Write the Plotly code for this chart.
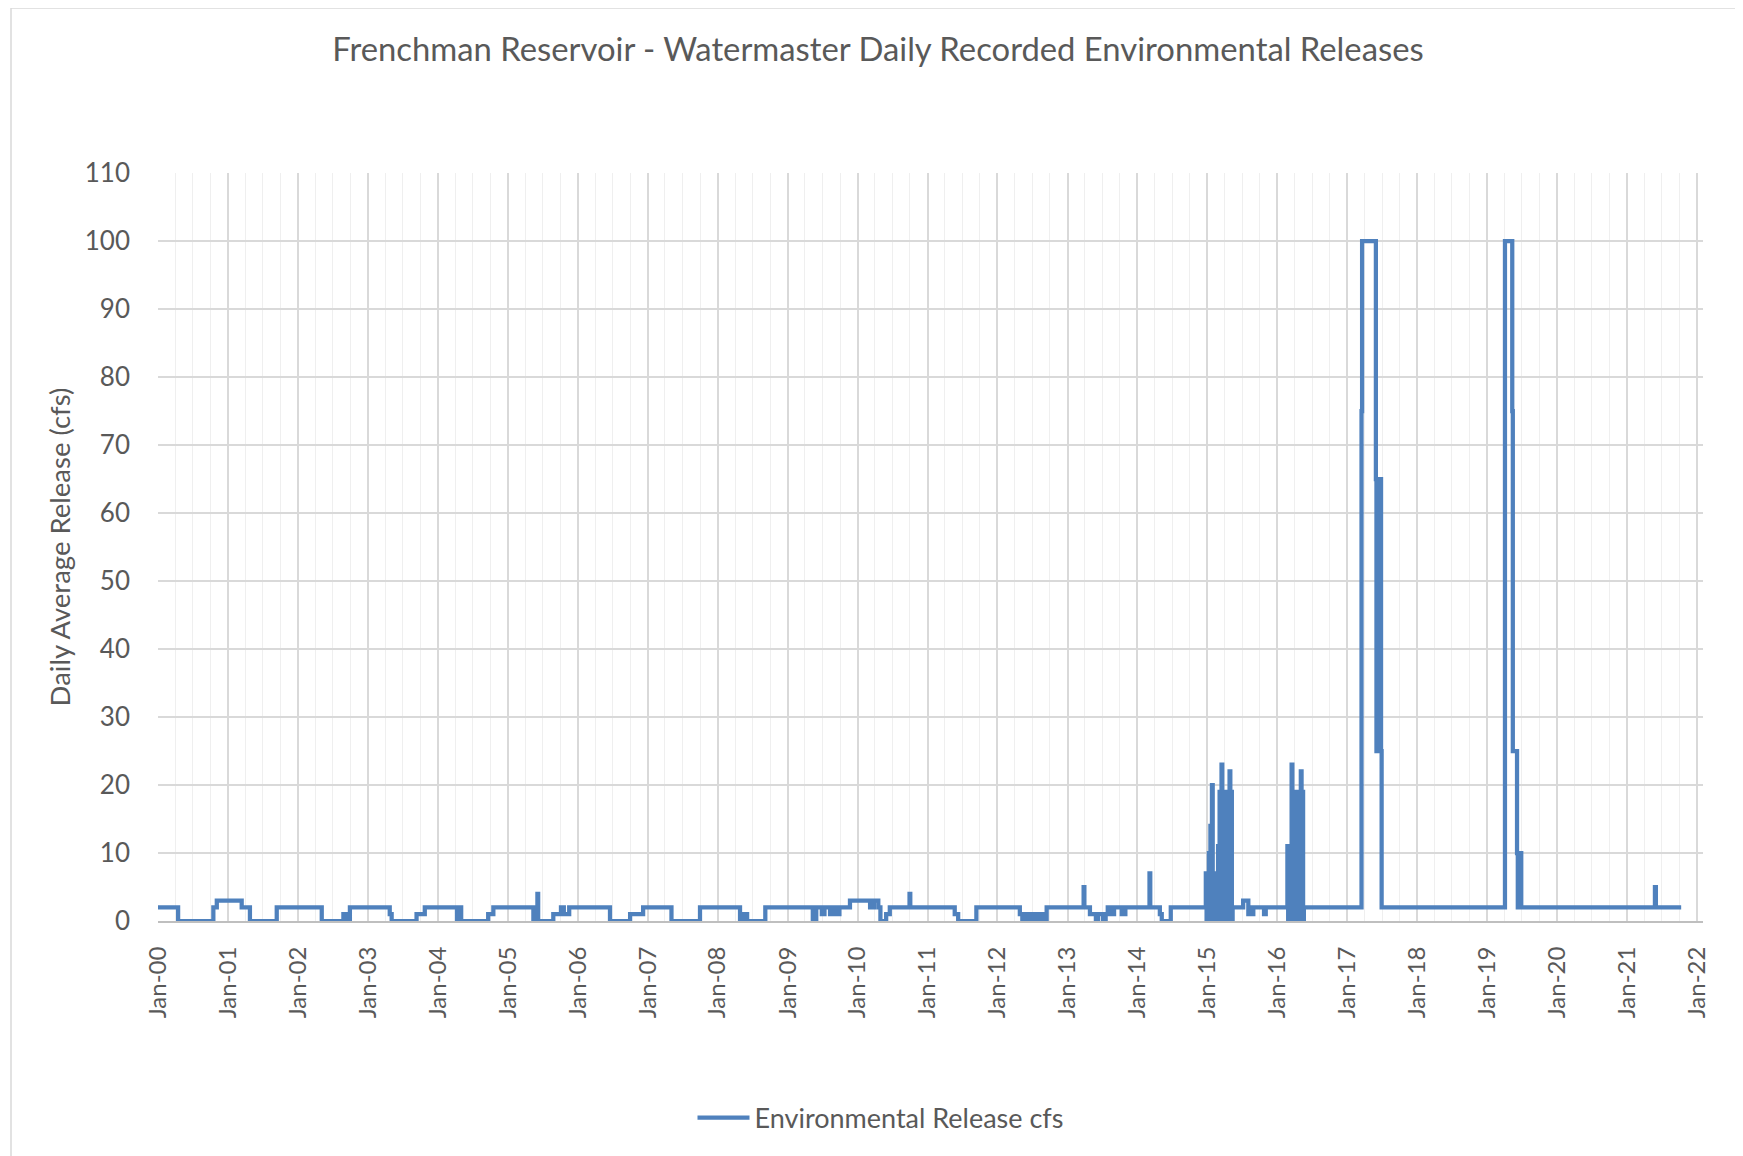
import plotly.graph_objects as go

# step-change points: release (cfs) holds from each date until the next one
dates_2000_2014 = [
    "2000-01-01", "2000-04-15", "2000-10-16", "2000-11-03", "2001-03-13", "2001-04-25",
    "2001-09-12", "2002-05-05", "2002-08-26", "2002-09-10", "2002-09-29", "2003-04-25",
    "2003-05-05", "2003-09-12", "2003-10-25", "2004-04-10", "2004-04-22", "2004-05-02",
    "2004-09-20", "2004-10-17", "2005-05-14", "2005-06-04", "2005-06-08", "2005-08-26",
    "2005-10-05", "2005-10-20", "2005-11-17", "2006-06-18", "2006-10-01", "2006-12-08",
    "2007-05-05", "2007-10-01", "2008-04-27", "2008-05-18", "2008-06-03", "2008-09-06",
    "2009-05-12", "2009-05-30", "2009-06-28", "2009-07-12", "2009-08-10", "2009-08-24",
    "2009-09-13", "2009-09-28", "2009-11-22", "2010-03-07", "2010-03-27", "2010-04-19",
    "2010-04-30", "2010-05-30", "2010-06-18", "2010-09-29", "2010-10-03", "2011-05-23",
    "2011-06-10", "2011-09-13", "2012-04-27", "2012-05-10", "2012-05-20", "2012-05-30",
    "2012-06-10", "2012-06-20", "2012-07-01", "2012-07-10", "2012-07-20", "2012-07-30",
    "2012-08-10", "2012-08-20", "2012-08-30", "2012-09-05", "2012-09-14", "2013-03-26",
    "2013-03-30", "2013-04-28", "2013-05-29", "2013-06-09", "2013-07-05", "2013-07-19",
    "2013-07-30", "2013-08-20", "2013-09-01", "2013-10-11", "2013-10-30", "2014-03-05",
    "2014-03-09", "2014-04-28", "2014-05-08", "2014-06-24",
]
cfs_2000_2014 = [
    2, 0, 2, 3, 2, 0,
    2, 0, 1, 0, 2, 1,
    0, 1, 2, 0, 2, 0,
    1, 2, 0, 4, 0, 1,
    2, 1, 2, 0, 1, 2,
    0, 2, 0, 1, 0, 2,
    0, 2, 1, 2, 1, 2,
    1, 2, 3, 2, 3, 2,
    0, 1, 2, 4, 2, 1,
    0, 2, 1, 0, 1, 0,
    1, 0, 1, 0, 1, 0,
    1, 0, 1, 0, 2, 5,
    2, 1, 0, 1, 0, 1,
    2, 1, 2, 1, 2, 7,
    2, 1, 0, 2,
]

dates_2015 = [
    "2014-12-24", "2014-12-28", "2015-01-01", "2015-01-05", "2015-01-09", "2015-01-13",
    "2015-01-17", "2015-01-21", "2015-01-25", "2015-01-29", "2015-02-02", "2015-02-06",
    "2015-02-10", "2015-02-14", "2015-02-18", "2015-02-22", "2015-02-26", "2015-03-02",
    "2015-03-06", "2015-03-10", "2015-03-16", "2015-03-20", "2015-03-24", "2015-03-28",
    "2015-04-01", "2015-04-05", "2015-04-09", "2015-04-13", "2015-04-17", "2015-04-21",
    "2015-04-27", "2015-05-01", "2015-05-05", "2015-05-09", "2015-05-13", "2015-07-07",
    "2015-08-03", "2015-08-10", "2015-08-22", "2015-08-29", "2015-10-24", "2015-11-02",
]
cfs_2015 = [
    7, 0, 7, 0, 10, 0,
    14, 0, 20, 0, 7, 0,
    7, 0, 7, 0, 11, 0,
    19, 0, 23, 0, 19, 0,
    19, 0, 19, 0, 19, 0,
    22, 0, 19, 0, 2, 3,
    1, 2, 1, 2, 1, 2,
]

dates_2016 = [
    "2016-02-23", "2016-02-27", "2016-03-02", "2016-03-06", "2016-03-10", "2016-03-13",
    "2016-03-16", "2016-03-20", "2016-03-24", "2016-03-28", "2016-04-01", "2016-04-05",
    "2016-04-09", "2016-04-13", "2016-04-17", "2016-04-21", "2016-04-25", "2016-04-29",
    "2016-05-03", "2016-05-07", "2016-05-11", "2016-05-15", "2016-05-19",
]
cfs_2016 = [
    11, 0, 11, 0, 11, 0,
    23, 0, 19, 0, 19, 0,
    19, 0, 19, 0, 19, 0,
    22, 0, 19, 0, 2,
]

dates_2017 = [
    "2017-03-16", "2017-03-19", "2017-05-30", "2017-06-02", "2017-06-05", "2017-06-08",
    "2017-06-11", "2017-06-14", "2017-06-17", "2017-06-20", "2017-06-23", "2017-06-26",
    "2017-06-29",
]
cfs_2017 = [75, 100, 65, 25, 50, 25, 65, 25, 50, 25, 65, 25, 2]

dates_2019_2021 = [
    "2019-04-04", "2019-05-12", "2019-05-15", "2019-06-06", "2019-06-10", "2019-06-14",
    "2019-06-18", "2019-06-22", "2019-06-28", "2021-05-26", "2021-05-31", "2021-10-10",
]
cfs_2019_2021 = [100, 75, 25, 10, 2, 10, 2, 10, 2, 5, 2, 2]

dates = dates_2000_2014 + dates_2015 + dates_2016 + dates_2017 + dates_2019_2021
cfs = cfs_2000_2014 + cfs_2015 + cfs_2016 + cfs_2017 + cfs_2019_2021

txt = "#595959"
font_name = "Lato"

fig = go.Figure()
fig.add_trace(go.Scatter(x=dates, y=cfs, mode="lines", line_shape="hv",
                         name="Environmental Release cfs",
                         line=dict(color="#4f81bd", width=4.25)))

W, H = 1743, 1156
OFF = 8  # page body margin
L, R = 158 - OFF, W - 1703 + OFF
T, B = 173 - OFF, H - 921.5 + OFF

fig.update_layout(
    width=W, height=H,
    margin=dict(l=L, r=R, t=T, b=B),
    paper_bgcolor="white", plot_bgcolor="white",
    font=dict(family=font_name, color=txt, size=26),
    title=dict(text="Frenchman Reservoir - Watermaster Daily Recorded Environmental Releases",
               font=dict(size=32.8, color=txt, family=font_name),
               x=(878 - OFF) / W, xref="container", xanchor="center",
               y=1 - (50 - OFF) / H, yref="container", yanchor="middle"),
    showlegend=True,
    legend=dict(orientation="h", x=(881 - OFF) / W, xref="container", xanchor="center",
                y=1 - (1118 - OFF) / H, yref="container", yanchor="middle",
                font=dict(size=27, color=txt), itemwidth=52),
)

fig.update_xaxes(
    type="date", range=["2000-01-01", "2022-02-01"],
    tick0="2000-01-01", dtick="M12", tickformat="%b-%y", tickangle=-90,
    showgrid=True, gridcolor="#d9d9d9", gridwidth=1.5,
    minor=dict(dtick="M3", showgrid=True, gridcolor="#efefef", gridwidth=1),
    showline=True, linecolor="#bfbfbf", linewidth=2,
    ticks="", ticklabelstandoff=14,
    tickfont=dict(size=24, color=txt),
    zeroline=False,
)
fig.update_yaxes(
    range=[0, 110], dtick=10, showgrid=True, gridcolor="#d9d9d9", gridwidth=1.5,
    showline=False, zeroline=False, ticks="", ticklabelstandoff=27,
    tickfont=dict(size=26, color=txt),
    title=dict(text="Daily Average Release (cfs)", font=dict(size=27.5, color=txt), standoff=6),
)

# outer chart border (Excel chart area)
pw = W - L - R
ph = H - T - B
fig.add_shape(type="rect", xref="paper", yref="paper",
              x0=(11 - OFF - L) / pw, x1=(W + 5 - L) / pw,
              y0=(H - B - (H + 5)) / ph, y1=(H - B - (7 - OFF + 1)) / ph,
              line=dict(color="#d9d9d9", width=1.5), fillcolor="rgba(0,0,0,0)", layer="below")

fig.write_html("out.html")
